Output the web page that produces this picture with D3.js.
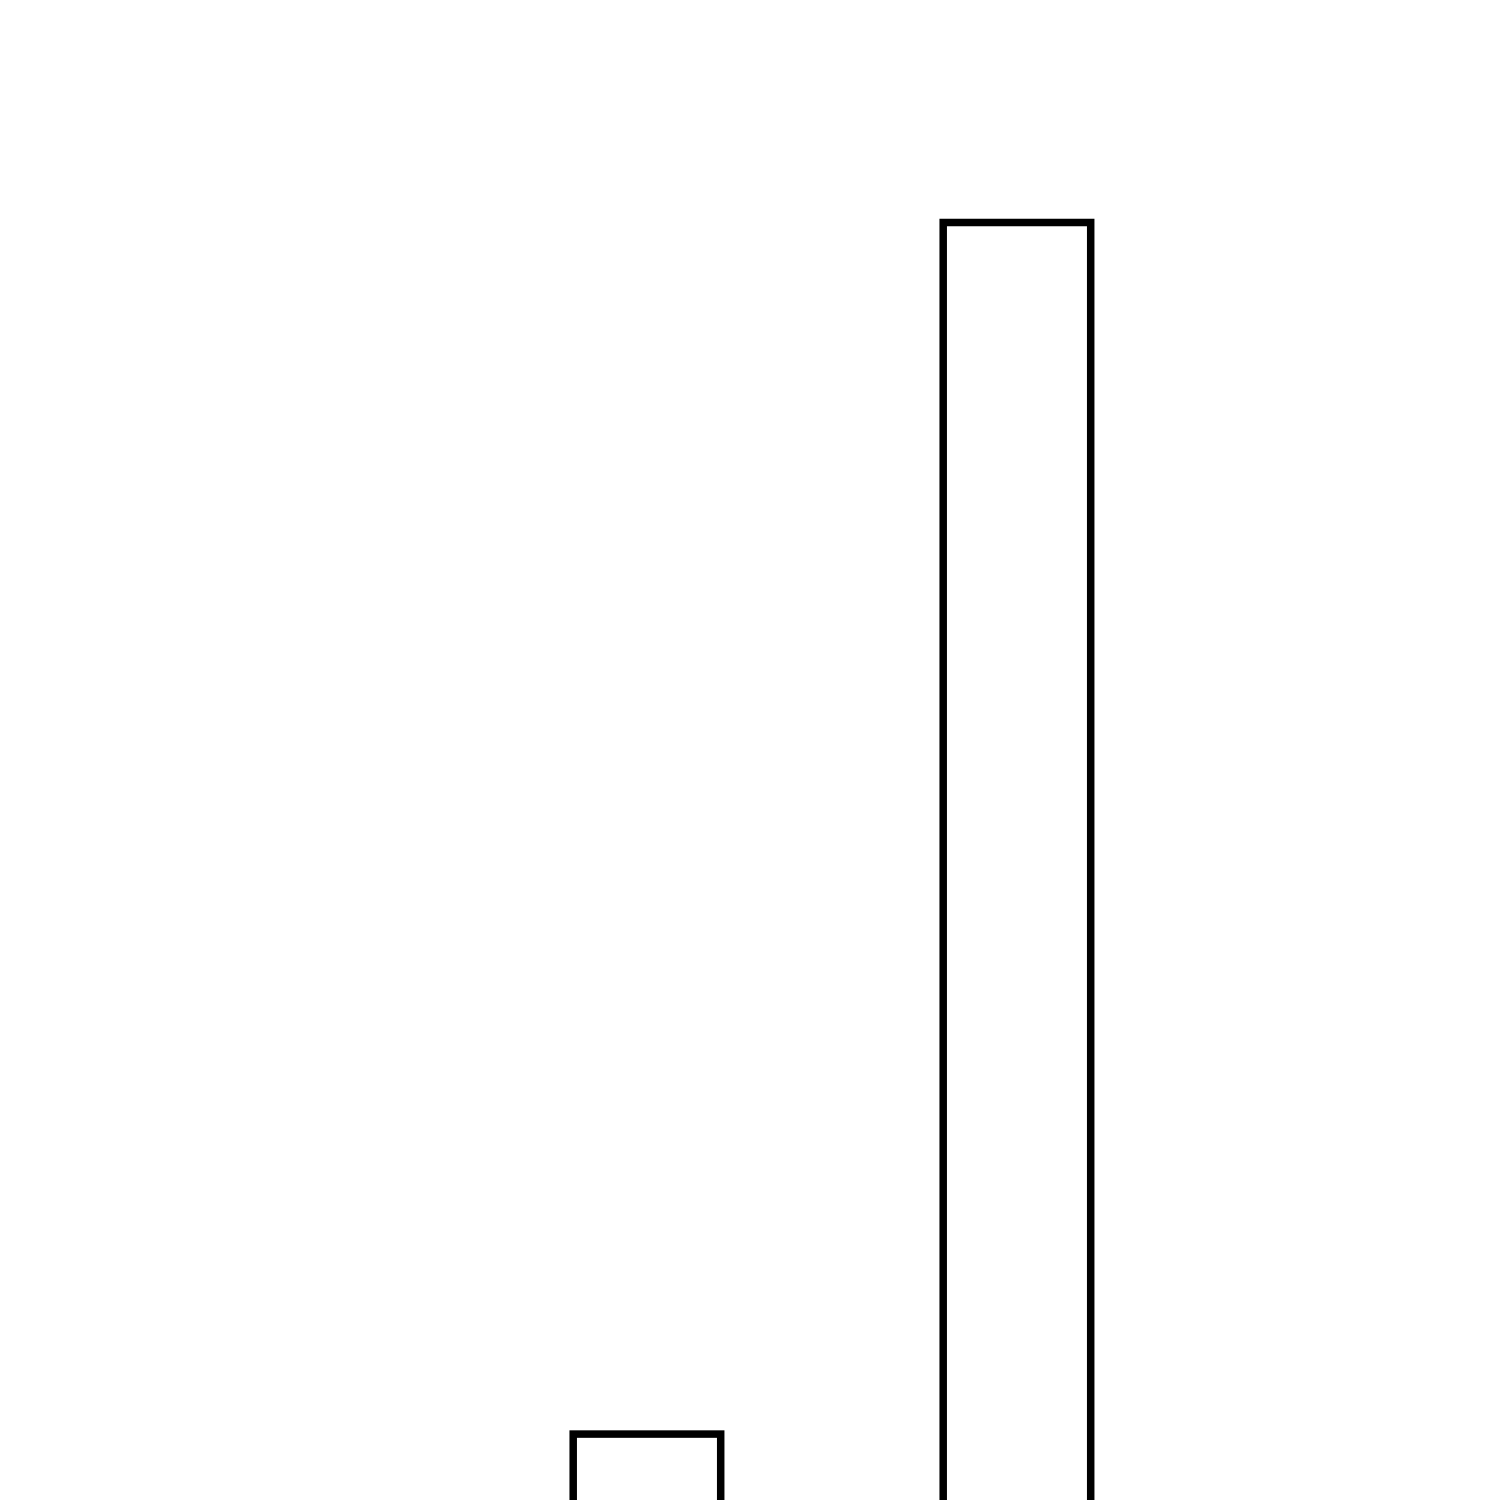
<!DOCTYPE html>
<html>
<head>
<meta charset="utf-8">
<script src="https://cdn.jsdelivr.net/npm/d3@7"></script>
<style>
  html, body { margin: 0; padding: 0; background: #fff; }
  svg { display: block; }
</style>
</head>
<body>
<div id="chart"></div>
<script>
// Données du graphique
const categories = ["A", "B"];
const values = [1, 10];

(function() {
    const width = 1500;
    const height = 1500;

    // La ligne de base est sous le bas de la fenêtre (graphique rogné)
    const baseline = 1568.7;

    const xScale = d3.scaleBand()
        .domain(categories)
        .range([573.2, 1090.7])
        .paddingInner(0.60135)
        .paddingOuter(0);

    const yScale = d3.scaleLinear()
        .domain([0, 10])
        .range([baseline, 222.5]);

    const svg = d3.select("#chart")
        .append("svg")
        .attr("width", width)
        .attr("height", height);

    svg.append("rect")
        .attr("width", width)
        .attr("height", height)
        .attr("fill", "#fff");

    svg.selectAll(".bar")
        .data(categories)
        .enter()
        .append("rect")
        .attr("class", "bar")
        .attr("x", d => xScale(d))
        .attr("y", (d, i) => yScale(values[i]))
        .attr("width", xScale.bandwidth())
        .attr("height", (d, i) => yScale(0) - yScale(values[i]))
        .attr("fill", "#fff")
        .attr("stroke", "#000")
        .attr("stroke-width", 7.5);
})();
</script>
</body>
</html>
